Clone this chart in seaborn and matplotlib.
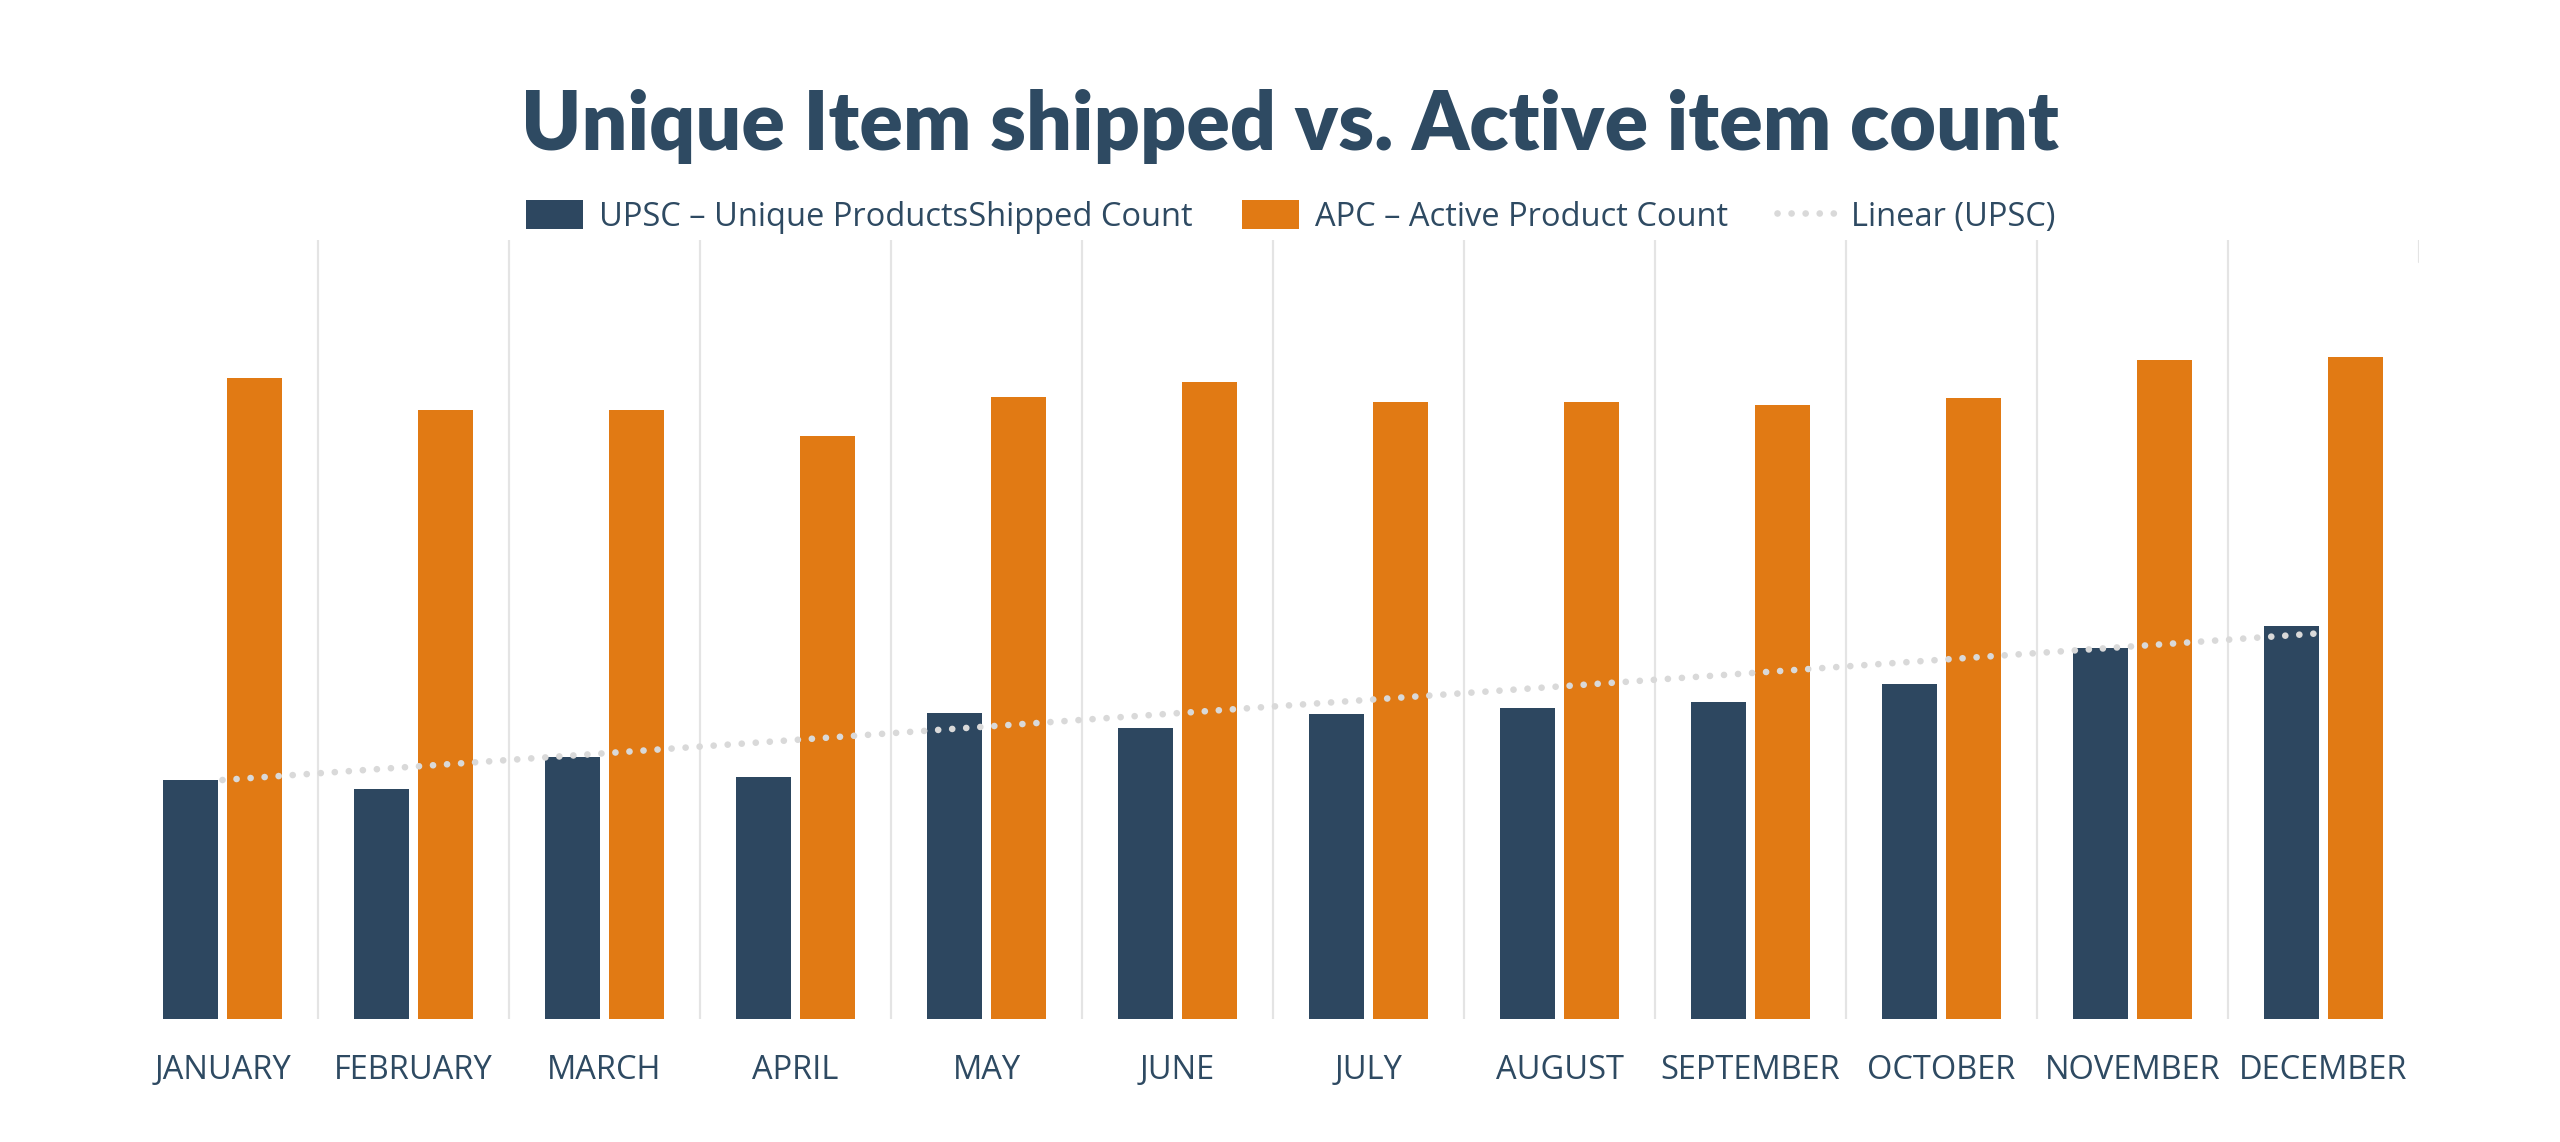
import matplotlib
matplotlib.use("Agg")
import matplotlib.pyplot as plt
import seaborn as sns
import pandas as pd
from matplotlib.patches import Patch
from matplotlib.lines import Line2D

# ---- data (relative units) ----
months = ["JANUARY", "FEBRUARY", "MARCH", "APRIL", "MAY", "JUNE",
          "JULY", "AUGUST", "SEPTEMBER", "OCTOBER", "NOVEMBER", "DECEMBER"]
upsc = [239, 230, 262, 242, 306, 291, 305, 311, 317, 335, 371, 393]
apc = [641, 609, 609, 583, 622, 637, 617, 617, 614, 621, 659, 662]
trend_upsc_ends = [239, 386]          # Linear (UPSC) value at January and December
series_names = ["UPSC – Unique ProductsShipped Count", "APC – Active Product Count"]
trend_name = "Linear (UPSC)"
title = "Unique Item shipped vs. Active item count"

NAVY = "#2D4760"
ORANGE = "#E17A14"
GRID = "#E4E4E4"
TREND = "#D9D9D9"
TEXT = "#2E4A62"

sns.set_theme(style="white")
plt.rcParams["font.family"] = ["Open Sans", "DejaVu Sans"]

df = pd.DataFrame({
    "month": months * 2,
    "value": upsc + apc,
    "series": [series_names[0]] * len(months) + [series_names[1]] * len(months),
})

W, H = 2560, 1142
fig = plt.figure(figsize=(W / 100, H / 100), dpi=100)
fig.patch.set_facecolor("white")
ax = fig.add_axes([127 / W, (H - 1019) / H, (2419 - 127) / W, (1019 - 240) / H])

sns.barplot(data=df, x="month", y="value", hue="series", order=months,
            hue_order=series_names, palette={series_names[0]: NAVY, series_names[1]: ORANGE},
            width=0.67, gap=0.13, saturation=1, edgecolor="none", legend=False, ax=ax, zorder=2)

ax.set_xlim(-0.5, len(months) - 0.5)
ax.set_ylim(0, 779)

# vertical separators between categories
for k in range(len(months) - 1):
    ax.axvline(k + 0.5, color=GRID, lw=1.6, zorder=0)
ax.axvline(len(months) - 0.5, ymin=0.972, ymax=1.0, color=GRID, lw=1.6, zorder=0)

# linear trend of UPSC
dot_style = (0, (0.01, 2.1))
ax.plot([0, len(months) - 1], trend_upsc_ends, color=TREND, lw=4.8,
        linestyle=dot_style, dash_capstyle="round", zorder=4)

for s in ax.spines.values():
    s.set_visible(False)
ax.set_yticks([])
ax.set_xlabel("")
ax.set_ylabel("")
ax.tick_params(axis="x", length=0, pad=25, labelsize=23.5, labelcolor=TEXT)
ax.grid(False)

# legend
handles = [Patch(facecolor=NAVY, edgecolor="none"),
           Patch(facecolor=ORANGE, edgecolor="none"),
           Line2D([0], [0], color=TREND, lw=4.8, linestyle=dot_style, dash_capstyle="round")]
fig.legend(handles, series_names + [trend_name], loc="center", bbox_to_anchor=(0.504, 1 - 217 / H),
           ncol=3, frameon=False, fontsize=23.5, handlelength=1.75, handleheight=0.95,
           handletextpad=0.5, columnspacing=1.5, labelcolor=TEXT)

# title, sized to the reference width
t = fig.text(0.504, 1 - 150 / H, title, ha="center", va="baseline", fontsize=58,
             fontweight="heavy", family=["Lato", "DejaVu Sans"], color=TEXT)
fig.canvas.draw()
bb = t.get_window_extent()
t.set_fontsize(58 * 1538 / bb.width)

fig.savefig("out.png", dpi=100, facecolor="white")
